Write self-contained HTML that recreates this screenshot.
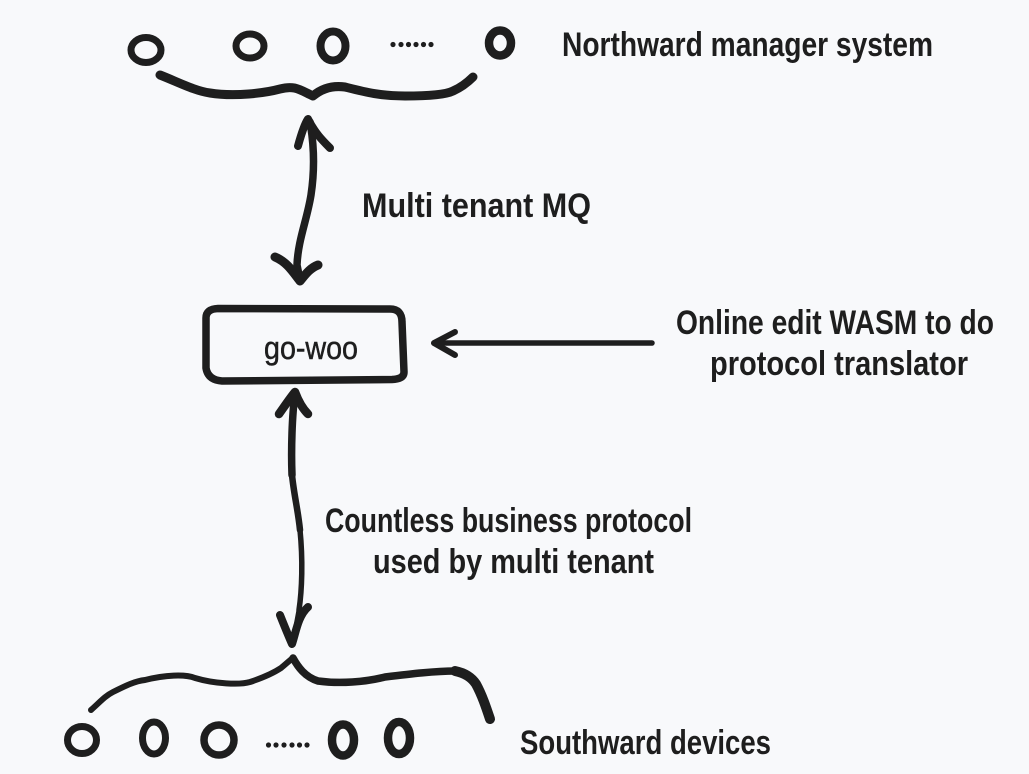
<!DOCTYPE html>
<html><head><meta charset="utf-8"><style>
html,body{margin:0;padding:0;background:#f8f9fb;width:1029px;height:774px;overflow:hidden}
svg{display:block}
text{font-family:"Liberation Sans",sans-serif;font-weight:700;font-size:34px;fill:#1e1e1e}
.s{fill:none;stroke:#1e1e1e;stroke-linecap:round;stroke-linejoin:round}
</style></head><body>
<svg width="1029" height="774" viewBox="0 0 1029 774" xmlns="http://www.w3.org/2000/svg">
<rect width="1029" height="774" fill="#f8f9fb"/>
<g class="s">
<ellipse cx="146" cy="50" rx="15" ry="12.500" stroke-width="7"/>
<ellipse cx="250" cy="46" rx="14" ry="12" stroke-width="7"/>
<ellipse cx="333" cy="46" rx="12.500" ry="14.500" stroke-width="8"/>
<ellipse cx="500" cy="43" rx="11" ry="12.500" stroke-width="8.500"/>
<ellipse cx="82" cy="740" rx="14.500" ry="13.500" stroke-width="7"/>
<ellipse cx="154" cy="738" rx="11.500" ry="16" stroke-width="7"/>
<ellipse cx="219" cy="740" rx="15" ry="15" stroke-width="7.500"/>
<ellipse cx="343" cy="740" rx="11" ry="15.500" stroke-width="8.500"/>
<ellipse cx="399" cy="738" rx="11" ry="16" stroke-width="8.500"/>
</g>
<g fill="#1e1e1e">
<circle cx="393" cy="44.500" r="2.600"/><circle cx="401" cy="44.500" r="2.600"/><circle cx="408.500" cy="44.500" r="2.600"/><circle cx="416" cy="44.500" r="2.600"/><circle cx="423.500" cy="44.500" r="2.600"/><circle cx="431" cy="44.500" r="2.600"/>
<circle cx="268.500" cy="745" r="2.600"/><circle cx="276" cy="745" r="2.600"/><circle cx="284" cy="745" r="2.600"/><circle cx="292" cy="745" r="2.600"/><circle cx="299.500" cy="745" r="2.600"/><circle cx="307" cy="745" r="2.600"/>
</g>
<path class="s" stroke-width="9" d="M160 75 C178 82 195 91 210 93 C235 97 265 93 280 89 C295 85 300 90 313 96 C320 90 330 85 345 87 C365 92 380 96 405 96 C425 96 445 95 453 91 C462 87 468 82 473 77"/>
<path class="s" stroke-width="7.500" d="M310 122 C315 150 314 175 311 195 C307 220 298 240 297 265 L300 280"/>
<path class="s" stroke-width="8" d="M298 146 C301 135 304 125 308 119 C315 133 322 140 330 148"/>
<path class="s" stroke-width="9" d="M275 257 C287 262 293 272 300 281 C305 275 310 268 318 265"/>
<path class="s" stroke-width="7.500" d="M206 318 Q206 309 218 308.500 L390 309 Q402 309 402 322 L404 372 Q404 379 392 379.500 L222 381 Q208 380 206 368 Z"/>
<text x="264" y="359" style="font-size:32px;font-weight:400;stroke:#1e1e1e;stroke-width:.5" textLength="94" lengthAdjust="spacingAndGlyphs">go-woo</text>
<path class="s" stroke-width="7.500" d="M295 394 C292 415 291 450 292 475"/>
<path class="s" stroke-width="6.500" d="M292 475 C294 495 298 510 300 530"/>
<path class="s" stroke-width="5.500" d="M300 530 C303 560 302 590 299 610"/>
<path class="s" stroke-width="5" d="M299 610 L293 642"/>
<path class="s" stroke-width="8.500" d="M279 414 C284 407 290 398 295 392 C298 400 302 408 308 414"/>
<path class="s" stroke-width="8" d="M280 615 C284 625 288 635 292 644 C296 632 298 616 308 607"/>
<path class="s" stroke-width="5.500" d="M652 343 L434 343"/>
<path class="s" stroke-width="6" d="M455 332 L434 343 L455 355"/>
<path class="s" stroke-width="6" d="M91 710 C100 702 105 696 113 692 C125 686 135 681 145 680 C165 675 185 674 195 678 C215 684 240 685 250 682 C265 677 275 672 281 668 C286 664 290 660 293 658"/>
<path class="s" stroke-width="7.500" d="M293 658 C298 667 305 677 318 681 C340 684 365 682 385 677 C410 674 435 671 455 671"/>
<path class="s" stroke-width="10" d="M455 671 C465 673 472 678 476 684 C482 695 486 707 490 719"/>
<text x="562" y="56" textLength="371" lengthAdjust="spacingAndGlyphs">Northward manager system</text>
<text x="362" y="217" textLength="229" lengthAdjust="spacingAndGlyphs">Multi tenant MQ</text>
<text x="676" y="334" textLength="318" lengthAdjust="spacingAndGlyphs">Online edit WASM to do</text>
<text x="710" y="375" textLength="258" lengthAdjust="spacingAndGlyphs">protocol translator</text>
<text x="325" y="532" textLength="367" lengthAdjust="spacingAndGlyphs">Countless business protocol</text>
<text x="373" y="573" textLength="281" lengthAdjust="spacingAndGlyphs">used by multi tenant</text>
<text x="520" y="754" textLength="251" lengthAdjust="spacingAndGlyphs">Southward devices</text>
</svg>
</body></html>
